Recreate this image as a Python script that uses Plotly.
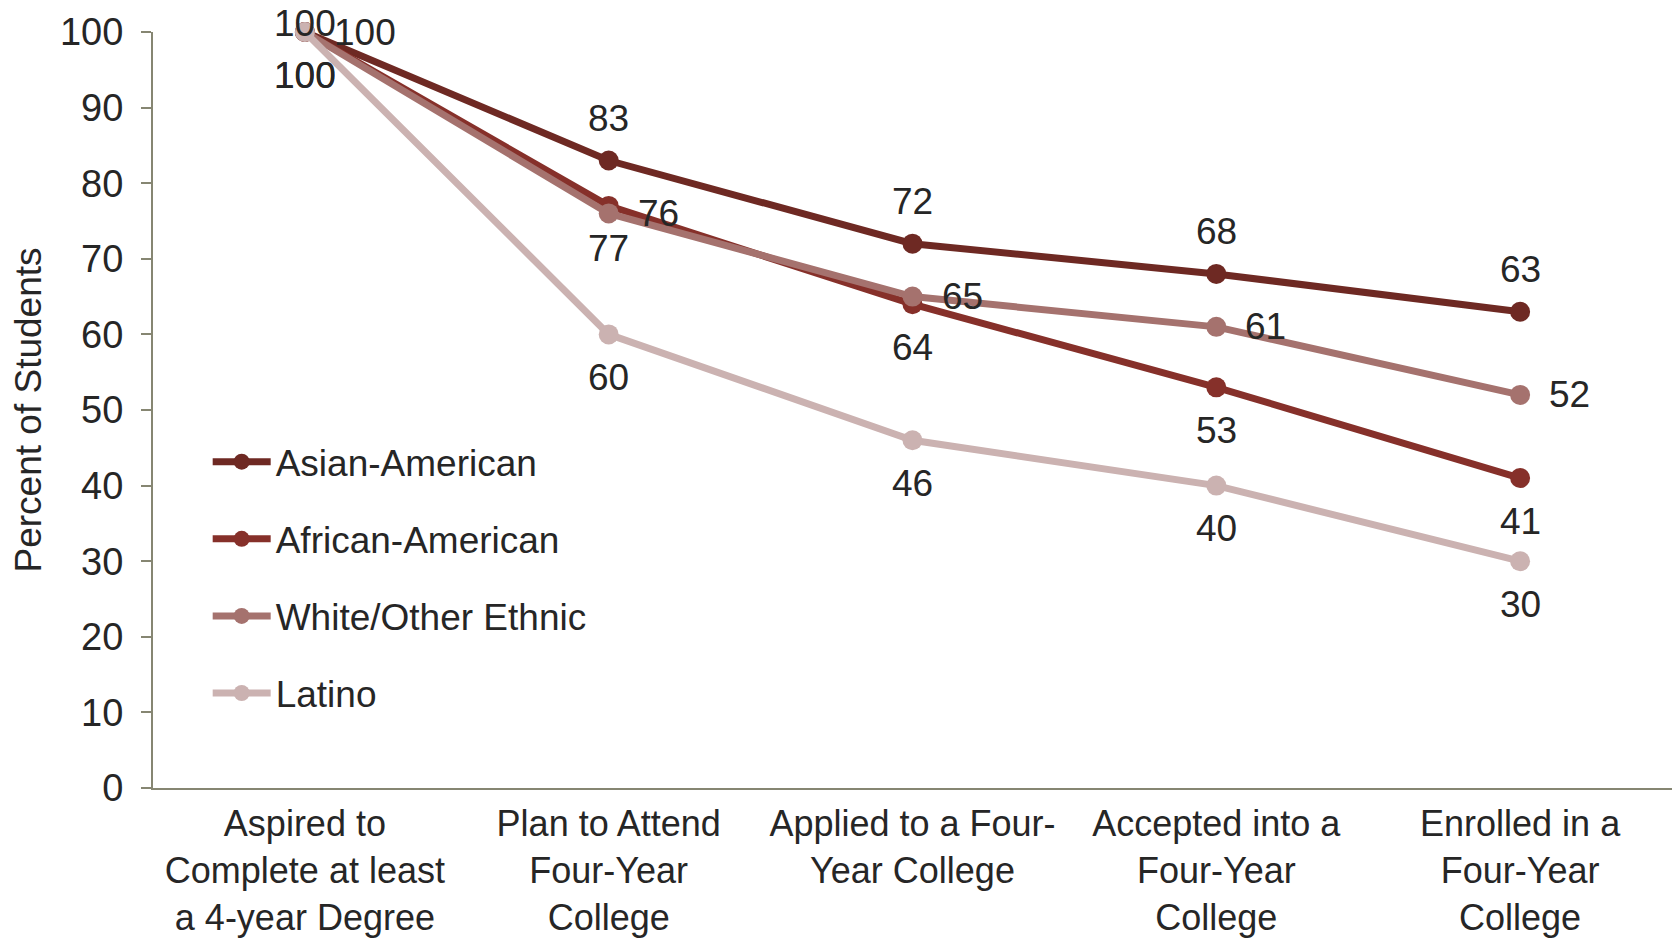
import plotly.graph_objects as go

categories = [
    "Aspired to<br>Complete at least<br>a 4-year Degree",
    "Plan to Attend<br>Four-Year<br>College",
    "Applied to a Four-<br>Year College",
    "Accepted into a<br>Four-Year<br>College",
    "Enrolled in a<br>Four-Year<br>College",
]
asian = [100, 83, 72, 68, 63]
african = [100, 77, 64, 53, 41]
white = [100, 76, 65, 61, 52]
latino = [100, 60, 46, 40, 30]

series = [
    ("Asian-American", asian, "#6E2923", "above"),
    ("African-American", african, "#86302A", "below"),
    ("White/Other Ethnic", white, "#A5726E", "right"),
    ("Latino", latino, "#CBB2B1", "below"),
]

FONT = "Liberation Sans, Arial, sans-serif"
TXT = "#262626"
AX = "#868672"
FS = 37

fig = go.Figure()
annotations = []
for i, (name, vals, color, pos) in enumerate(series):
    xs = list(range(len(categories)))
    fig.add_trace(go.Scatter(
        x=xs, y=vals, name=name,
        mode="lines+markers",
        line=dict(color=color, width=7),
        marker=dict(color=color, size=20),
        cliponaxis=False,
        legendgroup=f"g{i}",
    ))
    for x, v in zip(xs, vals):
        a = dict(x=x, y=v, xref="x", yref="y", text=str(v), showarrow=False,
                 font=dict(family=FONT, size=FS, color=TXT))
        if pos == "above":
            a.update(yshift=42 if v < 100 else 9)
        elif pos == "below":
            a.update(yshift=-43)
        else:
            a.update(xanchor="left", xshift=27)
        annotations.append(a)

fig.update_layout(
    width=1677, height=938,
    margin=dict(l=153, r=5, t=32, b=150),
    paper_bgcolor="white", plot_bgcolor="white",
    font=dict(family=FONT, size=FS, color=TXT),
    showlegend=True,
    annotations=annotations,
    legend=dict(
        x=0.036, y=0.472, xanchor="left", yanchor="top",
        font=dict(family=FONT, size=FS, color=TXT),
        traceorder="grouped", tracegroupgap=26,
        itemwidth=58, bgcolor="rgba(0,0,0,0)",
    ),
    xaxis=dict(
        tickmode="array", tickvals=list(range(len(categories))), ticktext=categories,
        range=[-0.5, 4.5], showgrid=False, zeroline=False,
        showline=True, linecolor=AX, linewidth=2, ticks="",
        ticklabelstandoff=3, automargin=False,
        tickfont=dict(family=FONT, size=36, color=TXT),
    ),
    yaxis=dict(
        range=[0, 100], dtick=10, showgrid=False, zeroline=False,
        showline=True, linecolor=AX, linewidth=2,
        ticks="outside", ticklen=10, tickcolor=AX, tickwidth=2,
        ticklabelstandoff=10, automargin=False,
        tickfont=dict(family=FONT, size=38, color=TXT),
        title=dict(text="Percent of Students", font=dict(family=FONT, size=FS, color=TXT), standoff=7),
    ),
)

fig.write_html("out.html")
